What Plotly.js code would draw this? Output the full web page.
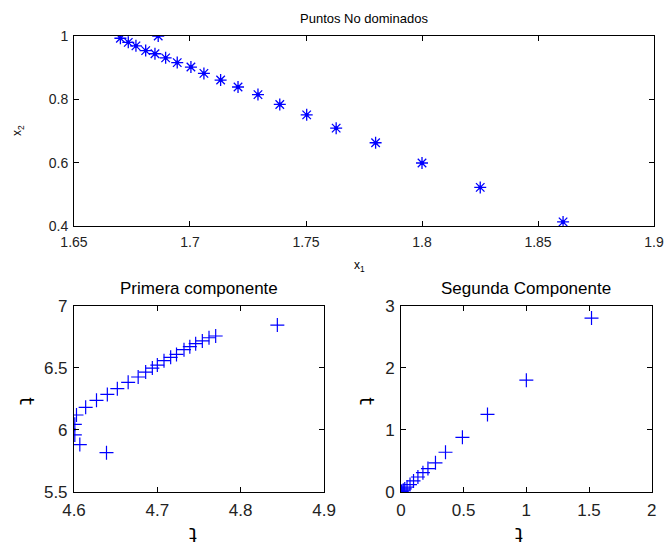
<!DOCTYPE html>
<html>
<head>
<meta charset="utf-8">
<script src="https://cdn.plot.ly/plotly-3.0.1.min.js"></script>
<style>html,body{margin:0;padding:0;background:#fff}#chart{width:666px;height:545px}</style>
</head>
<body>
<div id="chart"></div>
<script>
// Top: non-dominated points
const x1Vals = [1.670, 1.6734, 1.6767, 1.6809, 1.6849, 1.6895, 1.6945, 1.7004, 1.7060, 1.7132, 1.7207, 1.7293, 1.7387, 1.7503, 1.7630, 1.7800, 1.8000, 1.8251, 1.8608, 1.6863];
const x2Vals = [0.993, 0.980, 0.969, 0.954, 0.944, 0.931, 0.916, 0.902, 0.882, 0.861, 0.839, 0.815, 0.784, 0.751, 0.709, 0.663, 0.599, 0.522, 0.413, 1.000];

// Bottom left: first component
const f1A = [4.844, 4.770, 4.762, 4.754, 4.746, 4.739, 4.732, 4.723, 4.716, 4.708, 4.700, 4.694, 4.686, 4.677, 4.665, 4.652, 4.640, 4.627, 4.614, 4.603, 4.601, 4.601, 4.607, 4.639];
const f2A = [6.844, 6.756, 6.742, 6.716, 6.694, 6.670, 6.646, 6.608, 6.584, 6.557, 6.522, 6.498, 6.466, 6.426, 6.383, 6.332, 6.286, 6.238, 6.182, 6.120, 6.045, 5.960, 5.882, 5.817];

// Bottom right: second component
const f1B = [1.52, 1.00, 0.69, 0.49, 0.355, 0.275, 0.215, 0.175, 0.135, 0.100, 0.072, 0.048, 0.030, 0.018, 0.008, 0.003, 0.0];
const f2B = [2.80, 1.80, 1.25, 0.88, 0.640, 0.470, 0.378, 0.312, 0.242, 0.178, 0.120, 0.080, 0.050, 0.030, 0.015, 0.006, 0.0];

const titles = ['Puntos No dominados', 'Primera componente', 'Segunda Componente'];
const axisLabels = ['x<sub>1</sub>', 'x<sub>2</sub>', 'ʇ'];
const xTicksTop = [1.65, 1.7, 1.75, 1.8, 1.85, 1.9];
const yTicksTop = [0.4, 0.6, 0.8, 1];
const xTicksA = [4.6, 4.7, 4.8, 4.9];
const yTicksA = [5.5, 6, 6.5, 7];
const xTicksB = [0, 0.5, 1, 1.5, 2];
const yTicksB = [0, 1, 2, 3];

const blue = '#0000ff';
const fontFam = 'Liberation Sans, Arial, Helvetica, sans-serif';

const traces = [
  {x: x1Vals, y: x2Vals, xaxis: 'x', yaxis: 'y', mode: 'markers', type: 'scatter',
   marker: {symbol: 'asterisk-open', size: 10, color: blue, line: {color: blue, width: 1.3}}},
  {x: x1Vals, y: x2Vals, xaxis: 'x', yaxis: 'y', mode: 'markers', type: 'scatter',
   marker: {symbol: 'circle', size: 4, color: blue}},
  {x: f1A, y: f2A, xaxis: 'x2', yaxis: 'y2', mode: 'markers', type: 'scatter',
   marker: {symbol: 'cross-thin-open', size: 10, color: blue, line: {color: blue, width: 1.2}}},
  {x: f1B, y: f2B, xaxis: 'x3', yaxis: 'y3', mode: 'markers', type: 'scatter',
   marker: {symbol: 'cross-thin-open', size: 10, color: blue, line: {color: blue, width: 1.2}}}
];

function ax(domain, range, ticks, fs, anchor, isX) {
  return {
    domain: domain, range: range, tickvals: ticks, ticktext: ticks.map(String),
    anchor: anchor, showgrid: false, zeroline: false,
    showline: true, linecolor: '#000', linewidth: 1, mirror: 'ticks',
    ticks: 'inside', ticklen: 5, tickcolor: '#000', tickwidth: 1,
    ticklabelstandoff: isX ? 3 : 2,
    tickfont: {family: fontFam, size: fs, color: '#222'}, fixedrange: true
  };
}

const topY = [0.5853, 0.9339];
const botY = [0.0972, 0.4391];

function ann(text, x, y, size, angle, fam) {
  return {text: text, xref: 'paper', yref: 'paper', x: x / 666, y: 1 - y / 545,
    xanchor: 'center', yanchor: 'middle', showarrow: false, textangle: angle || 0,
    font: {family: fam || fontFam, size: size, color: '#000'}};
}

const glyphFam = 'DejaVu Sans, sans-serif';

const layout = {
  width: 666, height: 545,
  margin: {l: 0, r: 0, t: 0, b: 0},
  paper_bgcolor: '#fff', plot_bgcolor: '#fff',
  showlegend: false,
  xaxis: ax([0.1111, 0.9820], [1.65, 1.9], xTicksTop, 14, 'y', true),
  yaxis: ax(topY, [0.4, 1], yTicksTop, 14, 'x', false),
  xaxis2: ax([0.1111, 0.4865], [4.6, 4.9], xTicksA, 17, 'y2', true),
  yaxis2: ax(botY, [5.5, 7], yTicksA, 17, 'x2', false),
  xaxis3: ax([0.6021, 0.9785], [0, 2], xTicksB, 17, 'y3', true),
  yaxis3: ax(botY, [0, 3], yTicksB, 17, 'x3', false),
  annotations: [
    ann(titles[0], 364, 18, 13),
    ann(titles[1], 199, 288, 17),
    ann(titles[2], 526, 288, 17),
    ann(axisLabels[0], 359, 266, 12),
    ann(axisLabels[1], 18, 131, 12, -90),
    ann(axisLabels[2], 193, 532, 20, 0, glyphFam),
    ann(axisLabels[2], 24, 401, 20, -90, glyphFam),
    ann(axisLabels[2], 519, 532, 20, 0, glyphFam),
    ann(axisLabels[2], 364, 401, 20, -90, glyphFam)
  ]
};

Plotly.newPlot('chart', traces, layout, {staticPlot: true, displayModeBar: false});
</script>
</body>
</html>
